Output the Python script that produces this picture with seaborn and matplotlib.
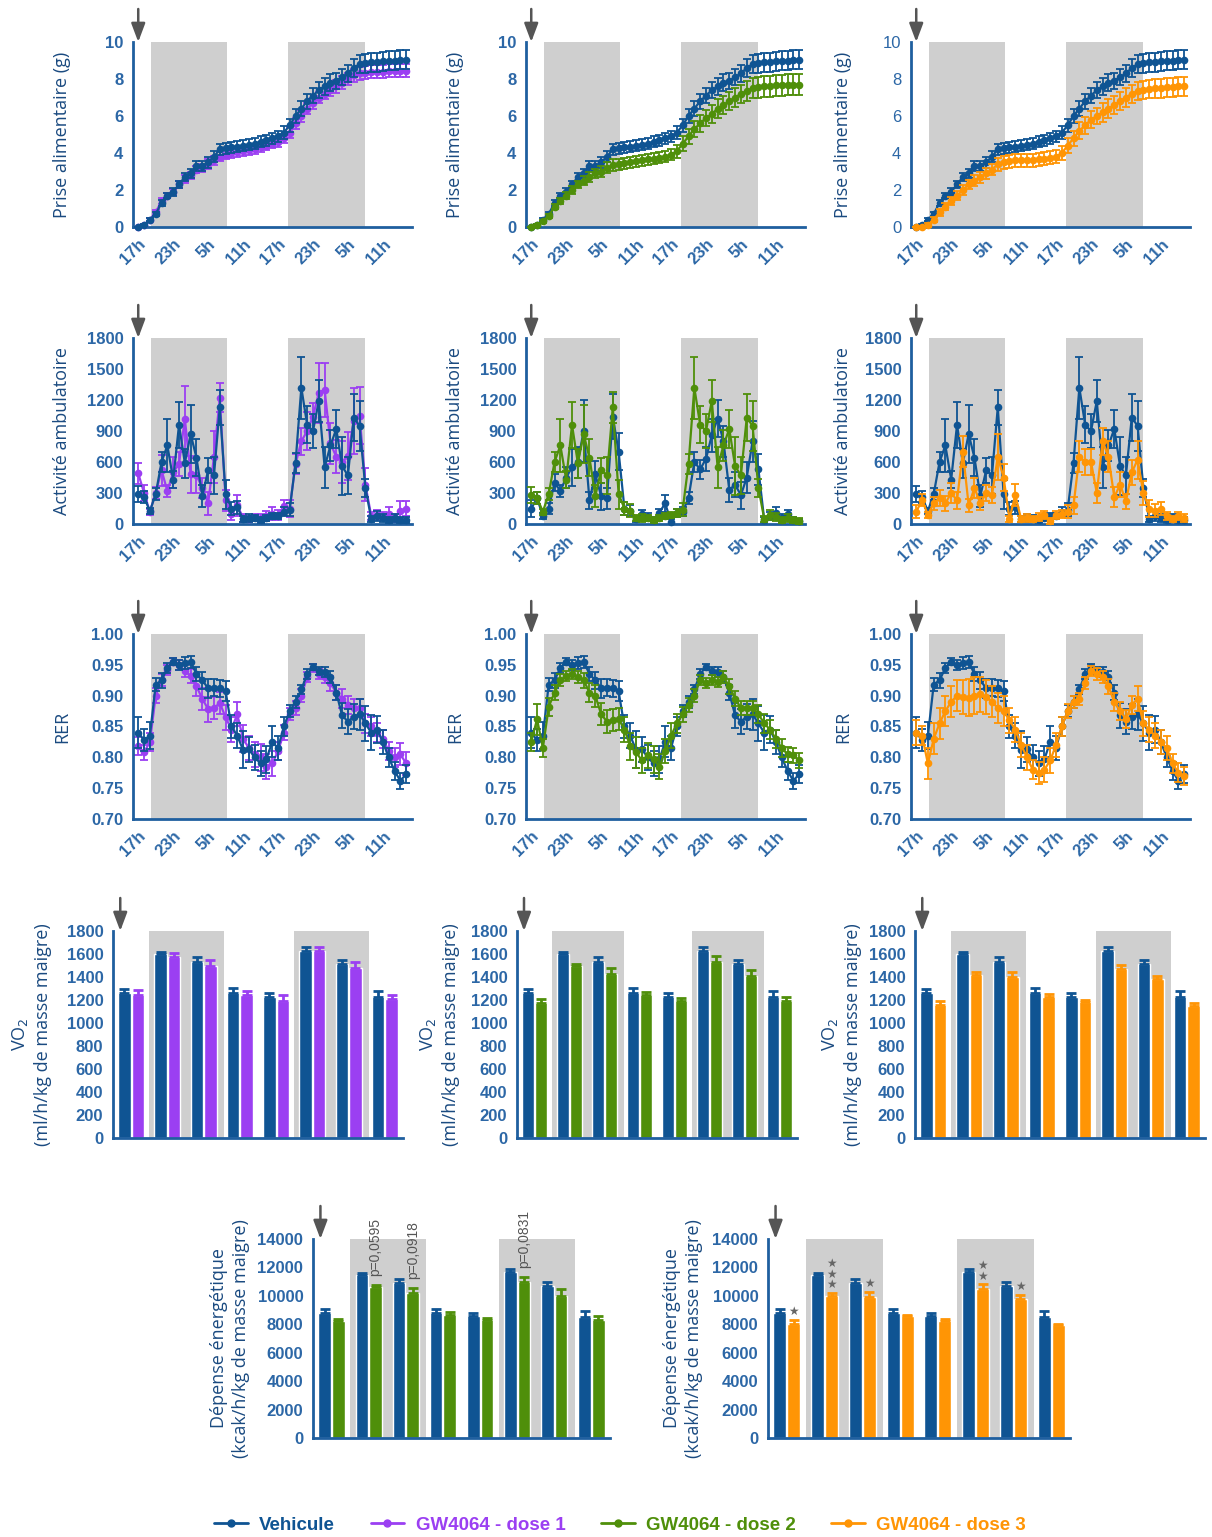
import matplotlib
matplotlib.use("Agg")
import matplotlib.pyplot as plt
from matplotlib.lines import Line2D
import numpy as np
import pandas as pd
import seaborn as sns

# ---------------- data ----------------
hours = list(range(47))
hour_ticks = [0, 6, 12, 18, 24, 30, 36, 42]
hour_labels = ["17h", "23h", "5h", "11h", "17h", "23h", "5h", "11h"]
dark_periods = [(2.2, 15.3), (25.7, 39.0)]

# prise alimentaire cumulée (g)
veh_food = [0.0, 0.1, 0.4, 0.7, 1.3, 1.7, 1.9, 2.3, 2.7, 2.9, 3.3, 3.3,
            3.5, 3.8, 4.2, 4.25, 4.3, 4.35, 4.4, 4.45, 4.5, 4.6, 4.7, 4.8,
            4.9, 5.1, 5.5, 6.0, 6.4, 6.8, 7.1, 7.4, 7.6, 7.8, 7.9, 8.1,
            8.3, 8.6, 8.8, 8.85, 8.9, 8.9, 8.95, 9.0, 9.0, 9.05, 9.05]
veh_food_err = [0.0, 0.05, 0.1, 0.1, 0.15, 0.15, 0.2, 0.2, 0.2, 0.25, 0.25, 0.25,
                0.3, 0.3, 0.3, 0.3, 0.3, 0.3, 0.3, 0.3, 0.3, 0.3, 0.3, 0.3,
                0.3, 0.35, 0.35, 0.4, 0.4, 0.4, 0.4, 0.45, 0.45, 0.45, 0.45, 0.45,
                0.45, 0.5, 0.5, 0.5, 0.5, 0.5, 0.5, 0.5, 0.5, 0.5, 0.5]
d1_food = [0.0, 0.1, 0.4, 0.8, 1.4, 1.7, 1.9, 2.3, 2.6, 2.8, 3.1, 3.2,
           3.4, 3.6, 3.8, 3.9, 4.0, 4.05, 4.1, 4.15, 4.2, 4.3, 4.4, 4.5,
           4.6, 4.8, 5.1, 5.6, 6.0, 6.4, 6.7, 7.0, 7.2, 7.4, 7.6, 7.8,
           8.0, 8.2, 8.3, 8.35, 8.4, 8.4, 8.4, 8.45, 8.45, 8.45, 8.45]
d1_food_err = [0.0, 0.05, 0.1, 0.1, 0.15, 0.15, 0.15, 0.2, 0.2, 0.2, 0.2, 0.2,
               0.25, 0.25, 0.25, 0.25, 0.25, 0.25, 0.25, 0.25, 0.25, 0.25, 0.25, 0.25,
               0.25, 0.25, 0.3, 0.3, 0.3, 0.3, 0.3, 0.3, 0.3, 0.3, 0.35, 0.35,
               0.35, 0.35, 0.35, 0.35, 0.35, 0.35, 0.35, 0.35, 0.35, 0.35, 0.35]
d2_food = [0.0, 0.1, 0.3, 0.6, 1.1, 1.4, 1.7, 2.0, 2.3, 2.5, 2.7, 2.9,
           3.0, 3.2, 3.35, 3.4, 3.45, 3.5, 3.55, 3.6, 3.65, 3.7, 3.75, 3.8,
           3.9, 4.1, 4.5, 4.9, 5.3, 5.6, 5.9, 6.1, 6.4, 6.6, 6.8, 7.0,
           7.2, 7.35, 7.5, 7.55, 7.6, 7.6, 7.65, 7.65, 7.7, 7.7, 7.7]
d2_food_err = [0.0, 0.05, 0.1, 0.1, 0.15, 0.15, 0.2, 0.2, 0.2, 0.25, 0.25, 0.25,
               0.3, 0.3, 0.3, 0.3, 0.3, 0.3, 0.3, 0.3, 0.3, 0.3, 0.3, 0.3,
               0.3, 0.35, 0.4, 0.4, 0.45, 0.45, 0.45, 0.5, 0.5, 0.5, 0.5, 0.5,
               0.5, 0.55, 0.55, 0.55, 0.55, 0.55, 0.55, 0.55, 0.55, 0.55, 0.55]
d3_food = [0.0, 0.0, 0.1, 0.4, 0.8, 1.1, 1.4, 1.7, 2.0, 2.3, 2.5, 2.7,
           2.9, 3.1, 3.4, 3.5, 3.55, 3.6, 3.6, 3.6, 3.6, 3.65, 3.7, 3.75,
           3.8, 4.0, 4.4, 4.8, 5.2, 5.5, 5.8, 6.0, 6.2, 6.4, 6.6, 6.8,
           7.0, 7.2, 7.35, 7.4, 7.45, 7.5, 7.5, 7.55, 7.55, 7.6, 7.6]
d3_food_err = [0.0, 0.05, 0.1, 0.15, 0.2, 0.2, 0.2, 0.25, 0.25, 0.25, 0.3, 0.3,
               0.3, 0.3, 0.35, 0.35, 0.35, 0.35, 0.35, 0.35, 0.35, 0.35, 0.35, 0.35,
               0.35, 0.4, 0.4, 0.4, 0.45, 0.45, 0.45, 0.45, 0.5, 0.5, 0.5, 0.5,
               0.5, 0.5, 0.5, 0.5, 0.5, 0.5, 0.5, 0.5, 0.5, 0.5, 0.5]

# activité ambulatoire
veh_act = [290, 260, 125, 290, 600, 760, 430, 960, 590, 870, 640, 270,
           520, 470, 1130, 290, 150, 160, 50, 60, 60, 40, 60, 80,
           80, 120, 140, 590, 1320, 960, 900, 1190, 550, 760, 920, 560,
           470, 1030, 950, 350, 50, 80, 60, 40, 60, 40, 40]
veh_act_err = [80, 60, 30, 60, 100, 260, 80, 220, 140, 280, 180, 110,
               120, 180, 170, 140, 60, 60, 30, 40, 30, 30, 30, 30,
               30, 40, 60, 100, 300, 180, 160, 200, 200, 150, 180, 280,
               180, 230, 240, 90, 30, 50, 40, 30, 40, 30, 30]
veh_act_b = [150, 250, 80, 150, 400, 320, 450, 550, 600, 900, 230, 480,
             270, 250, 1040, 700, 150, 130, 50, 100, 70, 40, 110, 200,
             20, 110, 120, 250, 600, 530, 630, 860, 1020, 800, 330, 380,
             280, 450, 800, 530, 40, 80, 110, 60, 100, 40, 30]
veh_act_b_err = [80, 60, 30, 50, 80, 60, 100, 180, 150, 300, 80, 130,
                 130, 100, 220, 180, 60, 50, 30, 40, 40, 30, 40, 80,
                 30, 40, 40, 60, 100, 90, 120, 160, 180, 150, 120, 120,
                 130, 150, 200, 150, 30, 40, 50, 40, 40, 30, 20]
d1_act = [490, 300, 120, 300, 520, 320, 500, 580, 1020, 480, 470, 350,
          200, 650, 1220, 230, 100, 180, 60, 50, 70, 60, 80, 100,
          90, 170, 150, 580, 800, 900, 1040, 1270, 1300, 780, 650, 600,
          660, 1000, 1050, 380, 80, 90, 80, 100, 60, 130, 150]
d1_act_err = [100, 80, 30, 60, 150, 60, 150, 120, 320, 180, 170, 100,
              110, 250, 140, 100, 60, 100, 40, 30, 30, 40, 50, 60,
              50, 60, 80, 100, 130, 180, 130, 290, 260, 200, 160, 200,
              230, 320, 280, 160, 40, 50, 40, 60, 40, 90, 70]
d2_act = [280, 250, 120, 290, 600, 760, 430, 960, 590, 870, 640, 270,
          520, 470, 1130, 290, 150, 130, 60, 60, 60, 40, 60, 80,
          90, 110, 140, 580, 1320, 960, 900, 1190, 550, 760, 920, 560,
          470, 1030, 950, 350, 50, 90, 70, 40, 60, 40, 30]
d2_act_err = [80, 60, 30, 60, 100, 260, 80, 220, 140, 280, 180, 110,
              120, 180, 150, 140, 60, 60, 30, 40, 30, 30, 30, 30,
              30, 40, 60, 100, 300, 180, 160, 200, 200, 150, 180, 280,
              180, 230, 240, 90, 30, 50, 40, 30, 40, 30, 30]
d3_act = [120, 230, 90, 200, 250, 200, 300, 230, 700, 180, 350, 200,
          300, 280, 650, 450, 50, 280, 50, 60, 50, 70, 90, 30,
          90, 100, 120, 180, 650, 600, 600, 300, 800, 650, 260, 380,
          220, 500, 620, 300, 150, 130, 150, 80, 50, 80, 60]
d3_act_err = [60, 60, 30, 60, 80, 70, 100, 80, 150, 60, 100, 60,
              80, 80, 220, 130, 30, 110, 30, 40, 30, 40, 40, 30,
              40, 40, 60, 80, 150, 130, 130, 100, 130, 150, 100, 120,
              70, 120, 180, 120, 80, 60, 60, 40, 30, 40, 40]

# RER
veh_rer = [0.840, 0.828, 0.835, 0.918, 0.925, 0.945, 0.955, 0.950, 0.953, 0.955, 0.935, 0.925,
           0.912, 0.913, 0.912, 0.907, 0.850, 0.835, 0.812, 0.813, 0.800, 0.790, 0.797, 0.825,
           0.815, 0.850, 0.875, 0.890, 0.910, 0.935, 0.947, 0.940, 0.938, 0.930, 0.905, 0.868,
           0.858, 0.866, 0.870, 0.855, 0.840, 0.845, 0.825, 0.800, 0.778, 0.762, 0.773]
veh_rer_err = [0.025, 0.018, 0.022, 0.010, 0.012, 0.008, 0.006, 0.008, 0.010, 0.010, 0.012, 0.014,
               0.015, 0.014, 0.014, 0.016, 0.018, 0.020, 0.030, 0.020, 0.020, 0.020, 0.022, 0.025,
               0.020, 0.015, 0.010, 0.010, 0.008, 0.008, 0.005, 0.006, 0.008, 0.010, 0.012, 0.020,
               0.020, 0.020, 0.025, 0.028, 0.028, 0.022, 0.020, 0.015, 0.015, 0.013, 0.015]
d1_rer = [0.818, 0.808, 0.825, 0.900, 0.925, 0.942, 0.955, 0.950, 0.940, 0.932, 0.915, 0.895,
          0.878, 0.880, 0.888, 0.865, 0.845, 0.870, 0.830, 0.815, 0.805, 0.800, 0.785, 0.790,
          0.810, 0.840, 0.870, 0.880, 0.900, 0.930, 0.945, 0.935, 0.930, 0.920, 0.905, 0.895,
          0.885, 0.880, 0.880, 0.855, 0.850, 0.840, 0.830, 0.810, 0.800, 0.805, 0.790]
d1_rer_err = [0.015, 0.012, 0.015, 0.012, 0.010, 0.008, 0.006, 0.008, 0.010, 0.012, 0.015, 0.018,
              0.020, 0.018, 0.018, 0.020, 0.020, 0.020, 0.022, 0.020, 0.020, 0.022, 0.020, 0.020,
              0.015, 0.012, 0.010, 0.012, 0.010, 0.008, 0.006, 0.008, 0.010, 0.012, 0.012, 0.015,
              0.015, 0.015, 0.015, 0.015, 0.015, 0.015, 0.015, 0.015, 0.015, 0.018, 0.018]
d2_rer = [0.825, 0.862, 0.815, 0.882, 0.905, 0.925, 0.932, 0.935, 0.930, 0.925, 0.905, 0.900,
          0.870, 0.858, 0.860, 0.862, 0.845, 0.818, 0.808, 0.795, 0.803, 0.797, 0.785, 0.810,
          0.835, 0.855, 0.870, 0.885, 0.900, 0.925, 0.920, 0.925, 0.922, 0.930, 0.915, 0.895,
          0.880, 0.880, 0.880, 0.870, 0.855, 0.845, 0.830, 0.815, 0.805, 0.803, 0.795]
d2_rer_err = [0.015, 0.025, 0.015, 0.015, 0.012, 0.010, 0.008, 0.008, 0.010, 0.012, 0.015, 0.018,
              0.018, 0.018, 0.018, 0.018, 0.020, 0.022, 0.025, 0.020, 0.020, 0.022, 0.020, 0.020,
              0.020, 0.015, 0.012, 0.012, 0.010, 0.008, 0.008, 0.008, 0.008, 0.010, 0.012, 0.012,
              0.012, 0.012, 0.012, 0.015, 0.015, 0.015, 0.015, 0.015, 0.012, 0.012, 0.012]
d3_rer = [0.840, 0.835, 0.790, 0.830, 0.855, 0.875, 0.890, 0.900, 0.898, 0.897, 0.900, 0.902,
          0.898, 0.890, 0.880, 0.875, 0.860, 0.845, 0.820, 0.800, 0.780, 0.775, 0.780, 0.795,
          0.820, 0.850, 0.875, 0.890, 0.895, 0.920, 0.940, 0.935, 0.930, 0.915, 0.890, 0.875,
          0.862, 0.885, 0.895, 0.855, 0.845, 0.835, 0.825, 0.815, 0.790, 0.775, 0.770]
d3_rer_err = [0.020, 0.015, 0.025, 0.025, 0.025, 0.025, 0.025, 0.025, 0.028, 0.030, 0.030, 0.028,
              0.028, 0.025, 0.025, 0.025, 0.020, 0.020, 0.020, 0.020, 0.015, 0.018, 0.020, 0.020,
              0.020, 0.015, 0.012, 0.010, 0.010, 0.010, 0.008, 0.010, 0.010, 0.012, 0.015, 0.015,
              0.015, 0.015, 0.020, 0.020, 0.020, 0.020, 0.020, 0.020, 0.015, 0.015, 0.015]

# barres : 8 périodes
periods = ["P1", "P2", "P3", "P4", "P5", "P6", "P7", "P8"]
bar_dark = [(0.5, 2.55), (4.5, 6.55)]
vo2_veh = [1265, 1600, 1530, 1260, 1225, 1630, 1510, 1225]
vo2_veh_err = [35, 20, 40, 45, 40, 35, 35, 55]
vo2_d1 = [1245, 1570, 1500, 1240, 1195, 1630, 1475, 1205]
vo2_d1_err = [45, 35, 45, 35, 45, 30, 55, 40]
vo2_d2 = [1170, 1495, 1430, 1240, 1190, 1530, 1405, 1195]
vo2_d2_err = [35, 20, 45, 30, 30, 50, 55, 35]
vo2_d3 = [1160, 1415, 1400, 1225, 1180, 1470, 1385, 1150]
vo2_d3_err = [30, 25, 45, 25, 20, 35, 25, 20]
ee_veh = [8800, 11450, 10900, 8800, 8550, 11650, 10700, 8500]
ee_veh_err = [250, 150, 300, 300, 250, 250, 280, 400]
ee_d2 = [8200, 10650, 10200, 8650, 8300, 10950, 10000, 8300]
ee_d2_err = [200, 120, 350, 200, 150, 350, 450, 300]
ee_d3 = [8050, 10000, 9950, 8550, 8250, 10500, 9800, 7950]
ee_d3_err = [250, 200, 350, 100, 100, 300, 250, 100]
ee_d2_pvalues = {1: "p=0,0595", 2: "p=0,0918", 5: "p=0,0831"}
ee_d3_stars = {0: 1, 1: 3, 2: 1, 5: 2, 6: 1}

# ---------------- style ----------------
sns.set_style("white")
plt.rcParams["font.family"] = ["Liberation Sans", "DejaVu Sans"]

VEH = "#0f5493"
D1 = "#9b3ff2"
D2 = "#4f8f0a"
D3 = "#ff9505"
GRAY = "#cfcfcf"
AXC = "#1f5f9f"
TICKC = "#2c67a6"
LABC = "#1a4a80"
ARROWC = "#555555"

W, H = 1212, 1537
fig = plt.figure(figsize=(W / 100, H / 100), dpi=100)


def add_ax(left, top, right, bottom):
    return fig.add_axes([left / W, 1 - bottom / H, (right - left) / W, (bottom - top) / H])


def style_ax(ax, yticks, ylabels, ylabel, lx, weight="bold"):
    for s in ["top", "right"]:
        ax.spines[s].set_visible(False)
    for s in ["left", "bottom"]:
        ax.spines[s].set_color(AXC)
        ax.spines[s].set_linewidth(2)
    ax.tick_params(axis="both", colors=AXC, width=2, length=5, direction="out",
                   labelcolor=TICKC, pad=2)
    ax.set_yticks(yticks)
    ax.set_yticklabels(ylabels, fontweight=weight, fontsize=12)
    ax.set_ylabel(ylabel, fontsize=13, color=LABC, family="Open Sans", linespacing=1.3)
    ax.yaxis.set_label_coords(lx, 0.5)


def arrow(ax, x):
    ax.annotate("", xy=(x, 1.0), xycoords=("data", "axes fraction"), xytext=(0, 33),
                textcoords="offset pixels", annotation_clip=False,
                arrowprops=dict(arrowstyle="-|>,head_width=0.3,head_length=0.8", color=ARROWC,
                                lw=1.8, shrinkA=0, shrinkB=0, mutation_scale=14))


def line_panel(ax, series, ylim, yticks, ylabels, ylabel, lx, weight="bold"):
    for a, b in dark_periods:
        ax.axvspan(a, b, color=GRAY, lw=0, zorder=0)
    for i, (vals, err, c) in enumerate(series):
        ax.errorbar(hours, vals, yerr=err, fmt="none", ecolor=c, elinewidth=1.3,
                    capsize=3, capthick=1.3, zorder=2 + 2 * i)
        sns.lineplot(x=hours, y=vals, ax=ax, color=c, marker="o", markersize=5.5,
                     markeredgewidth=0, linewidth=1.6, zorder=3 + 2 * i, clip_on=False)
    ax.set_xlim(-0.9, 47)
    ax.set_ylim(*ylim)
    ax.set_xticks(hour_ticks)
    ax.set_xticklabels(hour_labels, rotation=45, ha="right", rotation_mode="anchor",
                       fontweight="bold", fontsize=12)
    style_ax(ax, yticks, ylabels, ylabel, lx, weight)
    arrow(ax, 0)


def bar_panel(ax, veh, veh_err, dose, dose_err, c, ylim, yticks, ylabel, lx):
    for a, b in bar_dark:
        ax.axvspan(a, b, color=GRAY, lw=0, zorder=0)
    df = pd.DataFrame({"periode": periods * 2,
                       "groupe": ["Vehicule"] * len(periods) + ["GW4064"] * len(periods),
                       "valeur": veh + dose})
    sns.barplot(data=df, x="periode", y="valeur", hue="groupe", order=periods,
                hue_order=["Vehicule", "GW4064"], palette=[VEH, c], width=0.74, gap=0.08,
                errorbar=None, saturation=1, legend=False, ax=ax, zorder=2)
    tops = []
    for cont, errs, col in zip(ax.containers, [veh_err, dose_err], [VEH, c]):
        xs = [r.get_x() + r.get_width() / 2 for r in cont]
        hs = [r.get_height() for r in cont]
        ax.errorbar(xs, hs, yerr=[np.zeros(len(errs)), errs], fmt="none", ecolor=col,
                    elinewidth=2, capsize=3.5, capthick=2, zorder=3)
        tops.append([(x, h + e) for x, h, e in zip(xs, hs, errs)])
    ax.set_xlim(-0.5, 7.5)
    ax.set_ylim(*ylim)
    ax.set_xticks([])
    ax.set_xlabel("")
    style_ax(ax, yticks, [str(t) for t in yticks], ylabel, lx)
    arrow(ax, -0.3)
    return tops


line_cols = [(133, 412), (526, 805), (911, 1190)]
lx_cols = [-0.222, -0.222, -0.211]

food_series = [
    [(d1_food, d1_food_err, D1), (veh_food, veh_food_err, VEH)],
    [(veh_food, veh_food_err, VEH), (d2_food, d2_food_err, D2)],
    [(veh_food, veh_food_err, VEH), (d3_food, d3_food_err, D3)],
]
act_series = [
    [(d1_act, d1_act_err, D1), (veh_act, veh_act_err, VEH)],
    [(veh_act_b, veh_act_b_err, VEH), (d2_act, d2_act_err, D2)],
    [(veh_act, veh_act_err, VEH), (d3_act, d3_act_err, D3)],
]
rer_series = [
    [(d1_rer, d1_rer_err, D1), (veh_rer, veh_rer_err, VEH)],
    [(veh_rer, veh_rer_err, VEH), (d2_rer, d2_rer_err, D2)],
    [(veh_rer, veh_rer_err, VEH), (d3_rer, d3_rer_err, D3)],
]

food_ticks = [0, 2, 4, 6, 8, 10]
act_ticks = [0, 300, 600, 900, 1200, 1500, 1800]
rer_ticks = [0.70, 0.75, 0.80, 0.85, 0.90, 0.95, 1.00]

for j, (l, r) in enumerate(line_cols):
    ax = add_ax(l, 42, r, 227)
    line_panel(ax, food_series[j], (0, 10), food_ticks, [str(t) for t in food_ticks],
               "Prise alimentaire (g)", lx_cols[j], "normal" if j == 2 else "bold")
    ax = add_ax(l, 338, r, 524)
    line_panel(ax, act_series[j], (0, 1800), act_ticks, [str(t) for t in act_ticks],
               "Activité ambulatoire", lx_cols[j])
    ax = add_ax(l, 634, r, 819)
    line_panel(ax, rer_series[j], (0.70, 1.00), rer_ticks, [f"{t:.2f}" for t in rer_ticks],
               "RER", lx_cols[j])

vo2_label = "VO$_2$\n(ml/h/kg de masse maigre)"
vo2_ticks = list(range(0, 2000, 200))
vo2_cols = [(113, 403), (517, 797), (915, 1205)]
vo2_lx = [-0.21, -0.204, -0.183]
vo2_data = [(vo2_d1, vo2_d1_err, D1), (vo2_d2, vo2_d2_err, D2), (vo2_d3, vo2_d3_err, D3)]
for j, (l, r) in enumerate(vo2_cols):
    ax = add_ax(l, 931, r, 1138)
    dose, dose_err, c = vo2_data[j]
    bar_panel(ax, vo2_veh, vo2_veh_err, dose, dose_err, c, (0, 1800), vo2_ticks,
              vo2_label, vo2_lx[j])

ee_label = "Dépense énergétique\n(kcak/h/kg de masse maigre)"
ee_ticks = list(range(0, 16000, 2000))

ax = add_ax(313, 1239, 610, 1438)
tops = bar_panel(ax, ee_veh, ee_veh_err, ee_d2, ee_d2_err, D2, (0, 14000), ee_ticks,
                 ee_label, -0.212)
for i, txt in ee_d2_pvalues.items():
    x, y = tops[1][i]
    ax.annotate(txt, xy=(x, y), xytext=(0, 9), textcoords="offset pixels", rotation=90,
                ha="center", va="bottom", fontsize=10, color="#555555", annotation_clip=False)

ax = add_ax(768, 1239, 1070, 1438)
tops = bar_panel(ax, ee_veh, ee_veh_err, ee_d3, ee_d3_err, D3, (0, 14000), ee_ticks,
                 ee_label, -0.215)
for i, n in ee_d3_stars.items():
    x, y = tops[1][i]
    ax.annotate("\n".join(["★"] * n), xy=(x, y), xytext=(0, 2), textcoords="offset pixels",
                ha="center", va="bottom", fontsize=8.5, color="#666666", linespacing=0.75,
                family="DejaVu Sans", annotation_clip=False)

# légende
handles = [Line2D([0], [0], color=c, lw=2, marker="o", markersize=5)
           for c in [VEH, D1, D2, D3]]
labels = ["Vehicule", "GW4064 - dose 1", "GW4064 - dose 2", "GW4064 - dose 3"]
fig.legend(handles, labels, loc="center", bbox_to_anchor=(620 / W, 1 - 1525 / H), ncol=4,
           frameon=False, prop={"weight": "bold", "size": 13.5}, labelcolor="linecolor",
           handlelength=1.8, columnspacing=1.9, handletextpad=0.6)

fig.savefig("out.png", dpi=100)
